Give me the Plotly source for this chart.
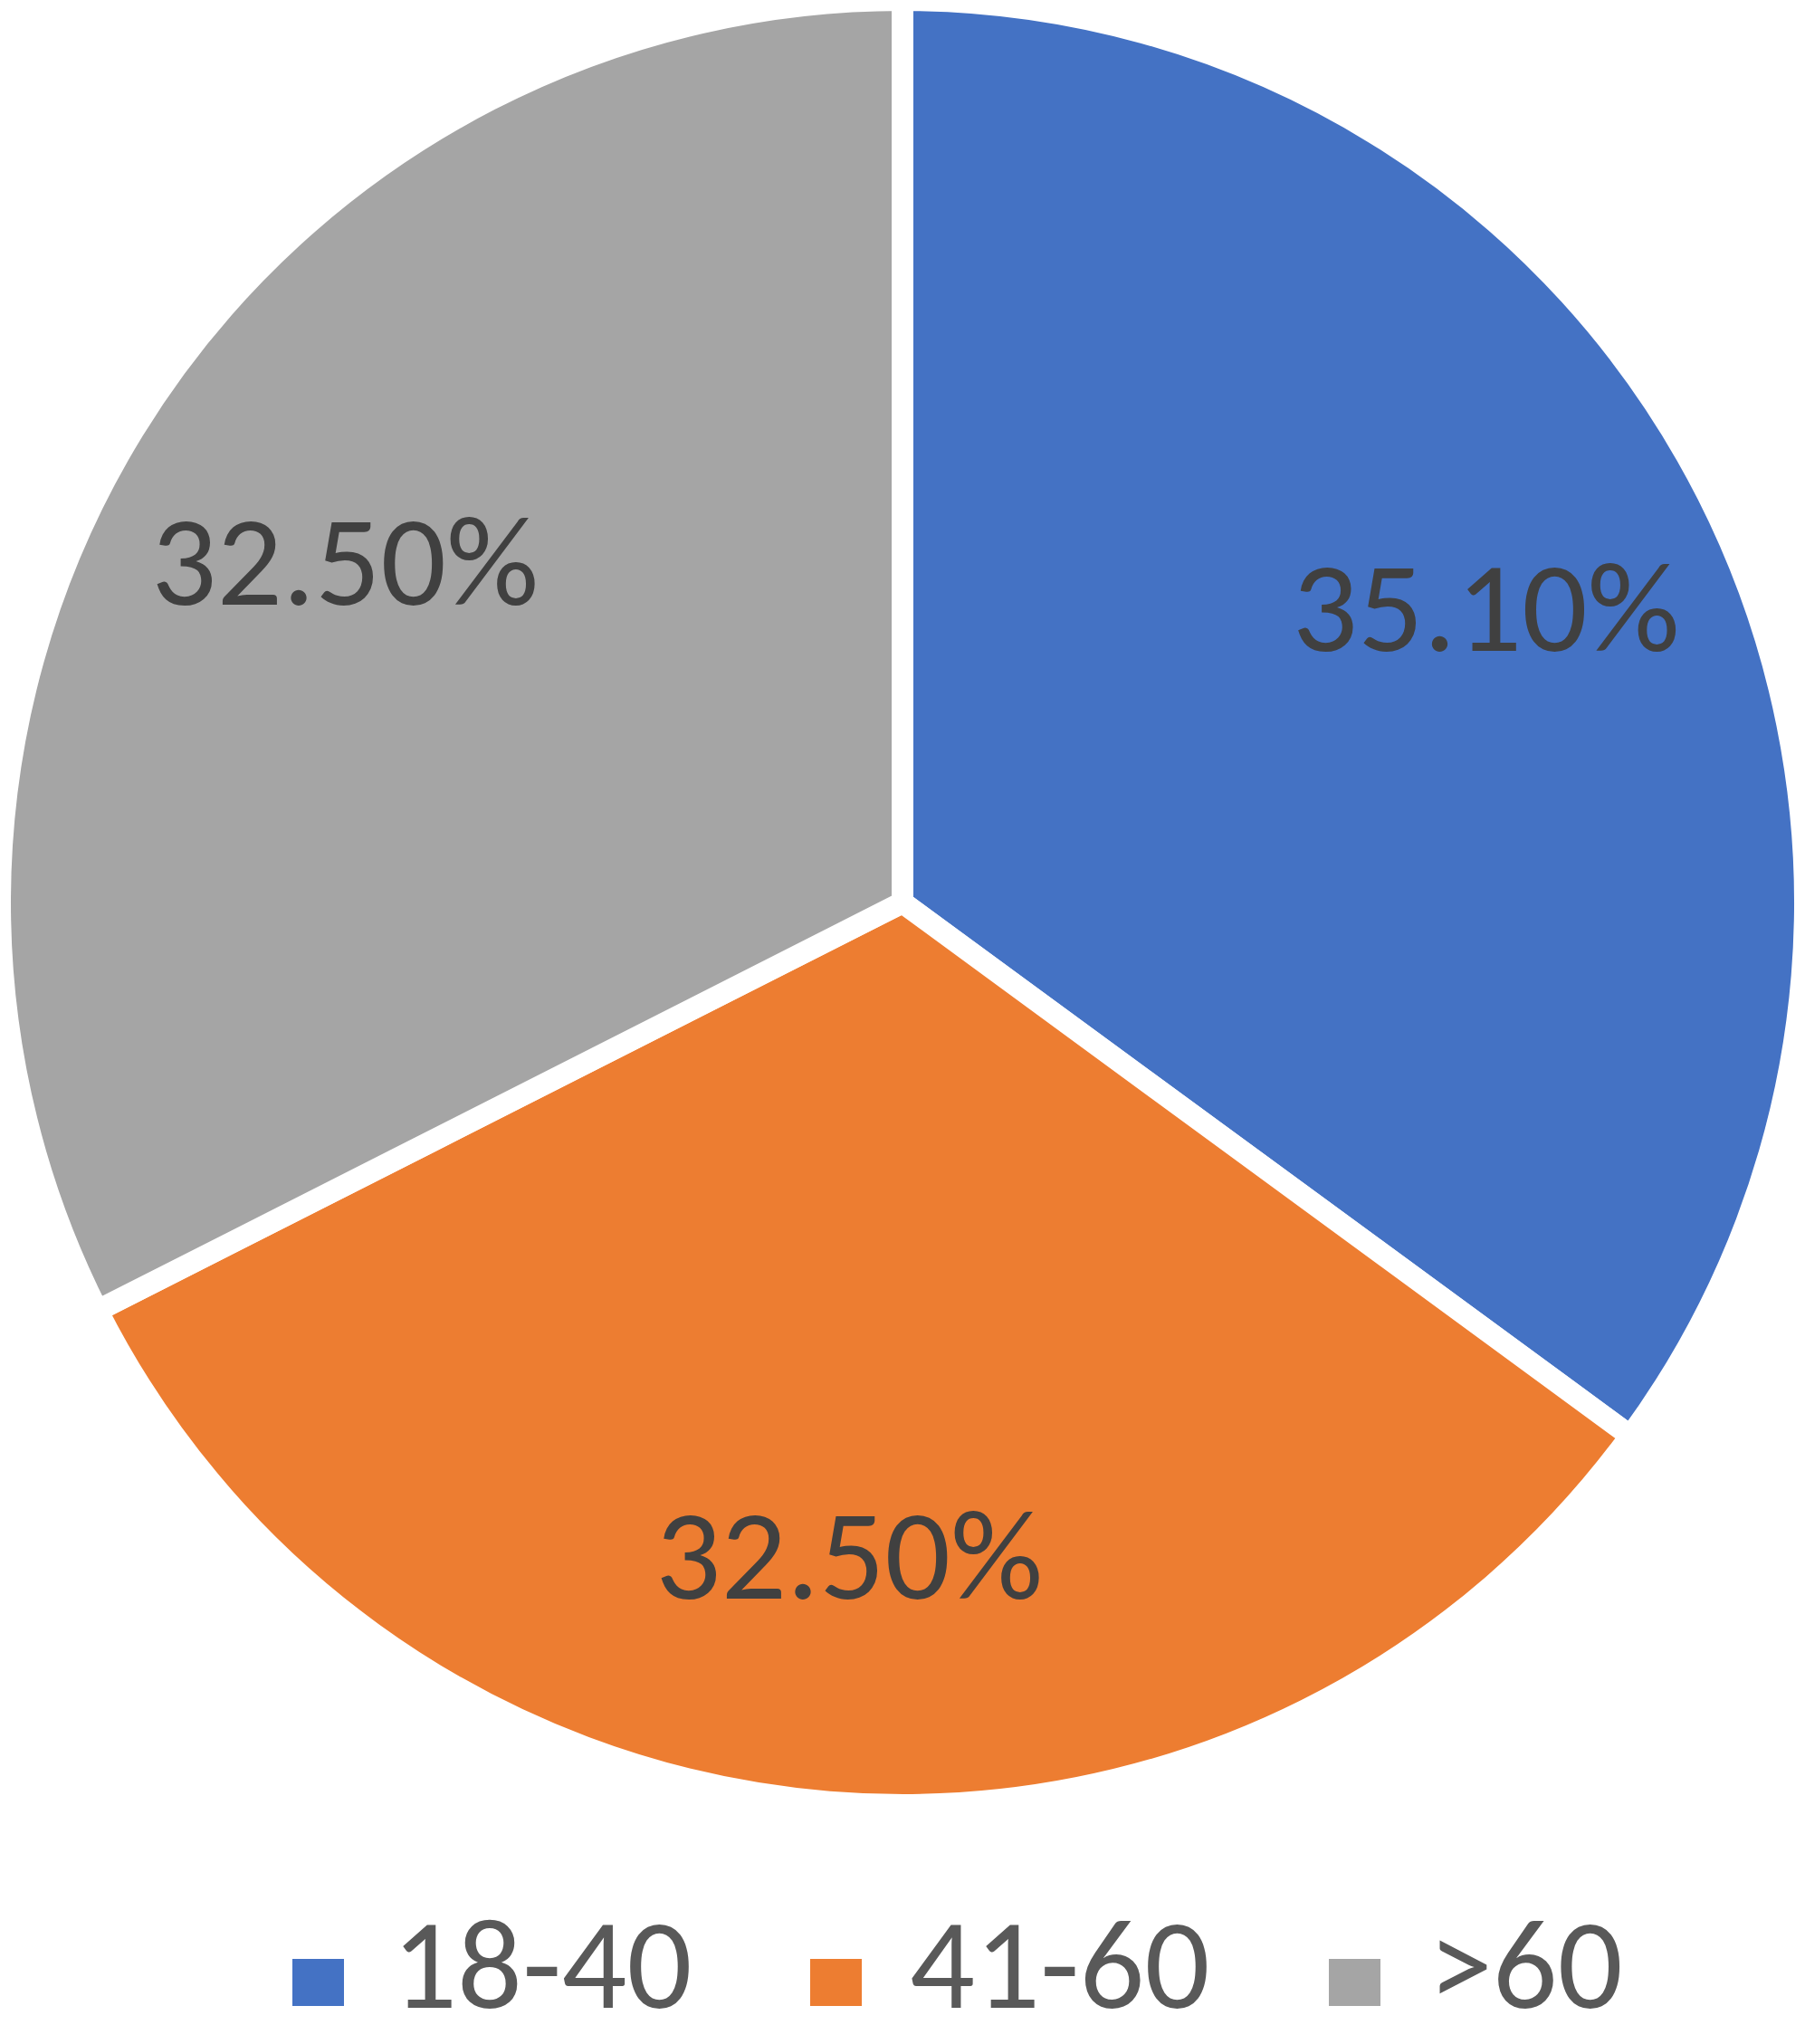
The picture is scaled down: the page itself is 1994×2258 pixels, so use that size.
import plotly.graph_objects as go

categories = ["18-40", "41-60", ">60"]
values = [35.1, 32.5, 32.5]
colors = ["#4472C4", "#ED7D31", "#A5A5A5"]

W, H = 1994, 2258
FONT = "Carlito, Lato, sans-serif"
pie_domain = dict(x=[0, 1], y=[1 - 1994 / H, 1])

fig = go.Figure()

# colored slices
fig.add_trace(go.Pie(
    labels=categories,
    values=values,
    sort=False,
    direction="clockwise",
    rotation=0,
    marker=dict(colors=colors, line=dict(color="white", width=24)),
    textinfo="none",
    hoverinfo="skip",
    showlegend=False,
    domain=pie_domain,
))

# percentage labels (same slices, transparent ring so labels sit further out)
fig.add_trace(go.Pie(
    labels=categories,
    values=values,
    sort=False,
    direction="clockwise",
    rotation=0,
    hole=0.45,
    marker=dict(colors=["rgba(0,0,0,0)"] * len(categories),
                line=dict(width=0)),
    texttemplate="%{value:.2f}%",
    textposition="inside",
    insidetextorientation="horizontal",
    textfont=dict(family=FONT, size=143, color="#404040"),
    hoverinfo="skip",
    showlegend=False,
    domain=pie_domain,
))

# custom legend (large colour squares like the original)
sq_left_px = [323, 895, 1468]
sq_size_px = (57, 52)
sq_mid_px = 2190
text_gap_px = 108

shapes = []
annotations = []
for cat, col, x0 in zip(categories, colors, sq_left_px):
    shapes.append(dict(
        type="rect", xref="paper", yref="paper",
        x0=x0 / W, x1=(x0 + sq_size_px[0]) / W,
        y0=1 - (sq_mid_px + sq_size_px[1] / 2) / H,
        y1=1 - (sq_mid_px - sq_size_px[1] / 2) / H,
        fillcolor=col, line=dict(width=0),
    ))
    annotations.append(dict(
        text=cat, xref="paper", yref="paper",
        x=(x0 + text_gap_px) / W, xanchor="left",
        y=0, yanchor="bottom",
        showarrow=False,
        font=dict(family=FONT, size=142, color="#595959"),
    ))

fig.update_layout(
    width=W, height=H,
    margin=dict(l=0, r=0, t=0, b=0),
    paper_bgcolor="white",
    plot_bgcolor="white",
    showlegend=False,
    shapes=shapes,
    annotations=annotations,
)

fig.write_html("out.html", config={"displayModeBar": False},
               post_script="document.body.style.margin='0';")
